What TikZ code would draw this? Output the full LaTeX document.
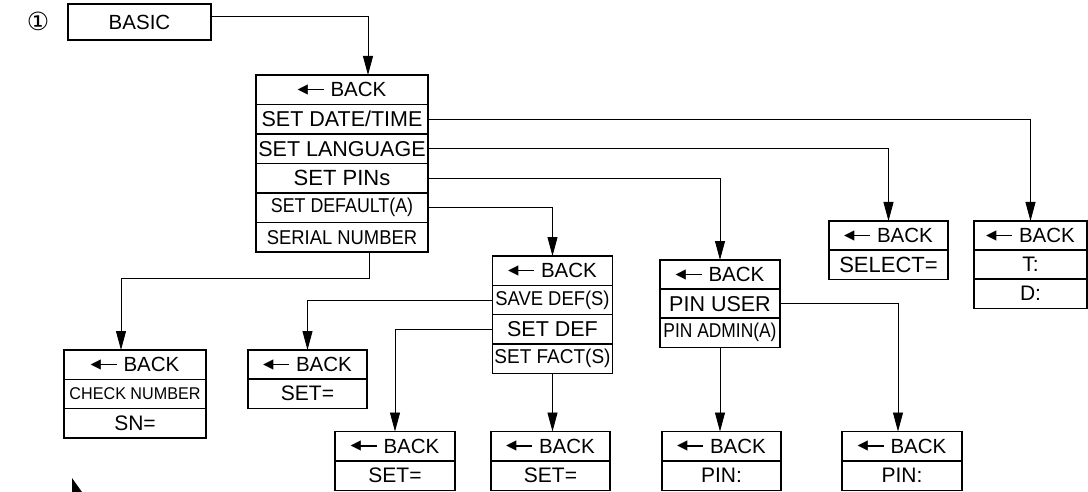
\documentclass[tikz,border=0pt]{standalone}
\usepackage{fontspec}
\usepackage{graphicx}
\setmainfont{Liberation Sans}
\newfontfamily\symfont{DejaVu Sans}
\usetikzlibrary{arrows.meta}

% the back entry of every menu
\newcommand{\bk}{\raisebox{\dimexpr 7pt-(\height-\depth)/2\relax}{\symfont\fontsize{13.5}{13.5}\selectfont ◀}\kern-2.5pt\rule[6.3pt]{18pt}{1.5pt}\hspace{7pt}BACK}
% a narrowed entry
\newcommand{\nar}[2]{\scalebox{#1}[1]{#2}}

\begin{document}
\begin{tikzpicture}[x=1pt,y=-1pt,
  row/.style={draw,line width=1.2pt,inner sep=0pt,outer sep=0pt,anchor=north west,
    minimum width=#1,minimum height=29.4pt,font=\fontsize{21}{24}\selectfont},
  sz/.style={font=\fontsize{#1}{#1}\selectfont},
  link/.style={line width=0.9pt,-{Triangle[length=19pt,width=10pt]}}]
\useasboundingbox (0,0) rectangle (1088,492);

\node (num) at (38,21) {\symfont\fontsize{25}{25}\selectfont ①};
\node[row=143pt,minimum height=36pt,sz=20.5] (basic) at (68,4) {BASIC};

% main menu
\node[row=172pt,sz=20.5] (mback) at (256,75) {\bk};
\node[row=172pt,sz=21.5] (mdate) at (256,104.5) {SET DATE/TIME};
\node[row=172pt,sz=21.5] (mlang) at (256,134) {SET LANGUAGE};
\node[row=172pt,sz=22] (mpins) at (256,163.5) {SET PINs};
\node[row=172pt,sz=20] (mdef) at (256,193) {\nar{0.89}{SET DEFAULT(A)}};
\node[row=172pt,sz=20] (mserial) at (256,222.5) {\nar{0.92}{SERIAL NUMBER}};

% second level
\node[row=119pt,sz=20.5] (lback) at (829,221) {\bk};
\node[row=119pt,sz=22] (lsel) at (829,250) {SELECT=};

\node[row=113pt,sz=20.5] (tback) at (974,221) {\bk};
\node[row=113pt] (ttime) at (974,250) {T:};
\node[row=113pt] (tdate) at (974,279) {D:};

\node[row=120pt,sz=20.5] (dback) at (492.5,256) {\bk};
\node[row=120pt,sz=20] (dsave) at (492.5,285.3) {\nar{0.92}{SAVE DEF(S)}};
\node[row=120pt,sz=21.5] (dset) at (492.5,314.5) {SET DEF};
\node[row=120pt,sz=20] (dfact) at (492.5,343.7) {\nar{0.95}{SET FACT(S)}};

\node[row=120pt,sz=20.5] (pback) at (660,260) {\bk};
\node[row=120pt,sz=21.5] (puser) at (660,289) {PIN USER};
\node[row=120pt,sz=20] (padmin) at (660,318) {\nar{0.87}{PIN ADMIN(A)}};

\node[row=142pt,sz=20.5] (cback) at (64,350) {\bk};
\node[row=142pt,sz=17] (ccheck) at (64,379.3) {\nar{0.95}{CHECK NUMBER}};
\node[row=142pt] (csn) at (64,408.6) {SN=};

\node[row=119pt,sz=20.5] (sback) at (248,350) {\bk};
\node[row=119pt] (sset) at (248,379) {SET=};

% third level
\node[row=120pt,sz=20.5] (aback) at (335,431.5) {\bk};
\node[row=120pt] (aset) at (335,461) {SET=};
\node[row=119pt,sz=20.5] (bback) at (491,431.5) {\bk};
\node[row=119pt] (bset) at (491,461) {SET=};
\node[row=119pt,sz=20.5] (uback) at (662,431.5) {\bk};
\node[row=119pt] (upin) at (662,461) {PIN:};
\node[row=120pt,sz=20.5] (vback) at (842,431.5) {\bk};
\node[row=120pt] (vpin) at (842,461) {PIN:};

% the links
\draw[link] ([yshift=6pt]basic.east) -| ([xshift=26pt]mback.north);
\draw[link] (mdate.east) -| (tback.north);
\draw[link] (mlang.east) -| (lback.north);
\draw[link] (mpins.east) -| (pback.north);
\draw[link] (mdef.east) -| (dback.north);
\draw[link] ([xshift=27pt]mserial.south) -- ++(0,27) -| ([xshift=-14pt]cback.north);
\draw[link] (dsave.west) -| (sback.north);
\draw[link] (dset.west) -| (aback.north);
\draw[link] (dfact.south) -- (dfact.south |- bback.north);
\draw[link] (padmin.south) -- (padmin.south |- uback.north);
\draw[link] (puser.east) -| ([xshift=-4pt]vback.north);

\fill (72,478) -- (82,492) -- (72,492) -- cycle;
\end{tikzpicture}
\end{document}
